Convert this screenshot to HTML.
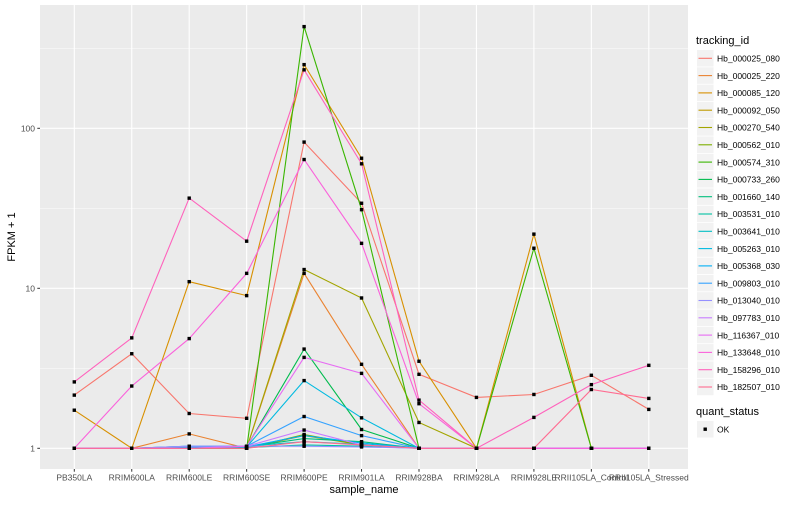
<!DOCTYPE html>
<html><head><meta charset="utf-8">
<style>
body{margin:0;background:#fff;font-family:"Liberation Sans",sans-serif;}
svg text{font-family:"Liberation Sans",sans-serif;}
</style></head>
<body>
<svg id="chart" width="800" height="500" xmlns="http://www.w3.org/2000/svg">
<rect x="0" y="0" width="800" height="500" fill="#fff"/>
<rect x="40" y="5" width="648" height="464" fill="#ebebeb"/>
<g id="grid"></g>
<g id="series"></g>
<g id="axes"></g>
<g id="legend"></g>
</svg>
<script>
const categories = ["PB350LA","RRIM600LA","RRIM600LE","RRIM600SE","RRIM600PE","RRIM901LA","RRIM928BA","RRIM928LA","RRIM928LE","RRII105LA_Control","RRII105LA_Stressed"];
const seriesNames = ["Hb_000025_080","Hb_000025_220","Hb_000085_120","Hb_000092_050","Hb_000270_540","Hb_000562_010","Hb_000574_310","Hb_000733_260","Hb_001660_140","Hb_003531_010","Hb_003641_010","Hb_005263_010","Hb_005368_030","Hb_009803_010","Hb_013040_010","Hb_097783_010","Hb_116367_010","Hb_133648_010","Hb_158296_010","Hb_182507_010"];
const seriesColors = ["#F8766D","#EA8331","#D89000","#C09B00","#A3A500","#7CAE00","#39B600","#00BB4E","#00BF7D","#00C1A3","#00BFC4","#00BAE0","#00B0F6","#35A2FF","#9590FF","#C77CFF","#E76BF3","#FA62DB","#FF62BC","#FF6C91"];
const s0 = [2.15,3.9,1.65,1.54,82,34,2.9,2.08,2.17,2.86,1.75];
const s1 = [1,1,1.23,1,12.4,3.35,1,1,1,1,1];
const s2 = [1.73,1,11,9,250,65,3.5,1,21.8,1,1];
const s3 = [1,1,1,1,1.2,1.05,1,1,1,1,1];
const s4 = [1,1,1,1,13.1,8.7,1.45,1,1,1,1];
const s5 = [1,1,1,1,1.22,1.05,1,1,1,1,1];
const s6 = [1,1,1,1,432,31,1,1,17.8,1,1];
const s7 = [1,1,1,1.02,4.17,1.31,1,1,1,1,1];
const s8 = [1,1,1.02,1.02,1.15,1.1,1,1,1,1,1];
const s9 = [1,1,1,1.01,1.05,1.03,1,1,1,1,1];
const s10 = [1,1,1.03,1.03,1.1,1.06,1,1,1,1,1];
const s11 = [1,1,1,1.02,2.65,1.55,1,1,1,1,1];
const s12 = [1,1,1.02,1.02,1.2,1.08,1,1,1,1,1];
const s13 = [1,1,1.03,1.03,1.58,1.2,1,1,1,1,1];
const s14 = [1,1,1.03,1.03,1.03,1.02,1,1,1,1,1];
const s15 = [1,1,1,1.03,1.3,1.05,1,1,1,1,1];
const s16 = [1,1,1,1.03,3.7,2.94,1,1,1,1,1];
const s17 = [1,2.45,4.85,12.4,63.8,19.1,1.9,1,1,1,1];
const s18 = [2.6,4.9,36.6,19.7,232,60,2.0,1,1.56,2.5,3.3];
const s19 = [1,1,1,1,1.1,1.05,1,1,1,2.33,2.05];
const seriesValues = [s0,s1,s2,s3,s4,s5,s6,s7,s8,s9,s10,s11,s12,s13,s14,s15,s16,s17,s18,s19];
const yTicks = [1,10,100];
const yTickLabels = ["1","10","100"];

const NS="http://www.w3.org/2000/svg";
function mk(tag,attrs,parent){const e=document.createElementNS(NS,tag);for(const k in attrs)e.setAttribute(k,attrs[k]);parent.appendChild(e);return e;}
const xPos = i => 74.3 + i*57.45;
const yPos = v => 448.3 - Math.log10(v)*160;

const grid=document.getElementById('grid');
[0.5,1.5,2.5].forEach(l=>{const y=448.3-l*160;const e=mk('line',{x1:40,x2:688,y1:y,y2:y,stroke:'#fff','stroke-width':0.5},grid);

});
yTicks.forEach(v=>{const e=mk('line',{x1:40,x2:688,y1:yPos(v),y2:yPos(v),stroke:'#fff','stroke-width':1.1},grid);

});
categories.forEach((c,i)=>{const e=mk('line',{x1:xPos(i),x2:xPos(i),y1:5,y2:469,stroke:'#fff','stroke-width':1.1},grid);

});

const sg=document.getElementById('series');
seriesValues.forEach((vals,si)=>{
  const pts=vals.map((v,i)=>xPos(i).toFixed(1)+','+yPos(v).toFixed(1)).join(' ');
  const e=mk('polyline',{points:pts,fill:'none',stroke:seriesColors[si],'stroke-width':1.1},sg);
  
  
});
seriesValues.forEach((vals,si)=>{
  vals.forEach((v,i)=>{
    const e=mk('rect',{x:xPos(i)-1.7,y:yPos(v)-1.7,width:3.4,height:3.4,fill:'#000'},sg);
    
    
  });
});

const ax=document.getElementById('axes');
yTicks.forEach((v,i)=>{
  const t=mk('line',{x1:37.3,x2:40,y1:yPos(v),y2:yPos(v),stroke:'#333','stroke-width':1},ax);
  
  
  const l=mk('text',{x:35,y:yPos(v)+3,'text-anchor':'end','font-size':'8.5',fill:'#4d4d4d'},ax);
  l.textContent=yTickLabels[i];
  
  
});
categories.forEach((c,i)=>{
  const t=mk('line',{x1:xPos(i),x2:xPos(i),y1:469,y2:471.7,stroke:'#333','stroke-width':1},ax);
  
  
  const l=mk('text',{x:xPos(i),y:480.5,'text-anchor':'middle','font-size':'8.5',fill:'#4d4d4d'},ax);
  l.textContent=c;
  
  
});
const xt=mk('text',{x:364,y:493,'text-anchor':'middle','font-size':'11',fill:'#000'},ax);
xt.textContent='sample_name';


const yt=mk('text',{x:15,y:237,'text-anchor':'middle','font-size':'11',fill:'#000',transform:'rotate(-90 15 237)'},ax);
yt.textContent='FPKM + 1';



const lg=document.getElementById('legend');
const lt=mk('text',{x:696,y:44,'font-size':'11',fill:'#000'},lg);
lt.textContent='tracking_id';


seriesNames.forEach((n,i)=>{
  const y0=50+i*17.3;
  const k=mk('rect',{x:697,y:y0,width:16.5,height:16.5,fill:'#f2f2f2'},lg);
  
  
  const ln=mk('line',{x1:698.5,x2:712,y1:y0+8.3,y2:y0+8.3,stroke:seriesColors[i],'stroke-width':1.1},lg);
  
  
  const tx=mk('text',{x:717,y:y0+11.5,'font-size':'8.5',fill:'#000'},lg);
  tx.textContent=n;
  
  
});
const qt=mk('text',{x:696,y:415,'font-size':'11',fill:'#000'},lg);
qt.textContent='quant_status';


const qk=mk('rect',{x:697,y:421,width:16.5,height:16.5,fill:'#f2f2f2'},lg);


const qp=mk('rect',{x:703.5,y:427.5,width:3.4,height:3.4,fill:'#000'},lg);


const qo=mk('text',{x:717,y:432.5,'font-size':'8.5',fill:'#000'},lg);
qo.textContent='OK';


</script>
</body></html>
